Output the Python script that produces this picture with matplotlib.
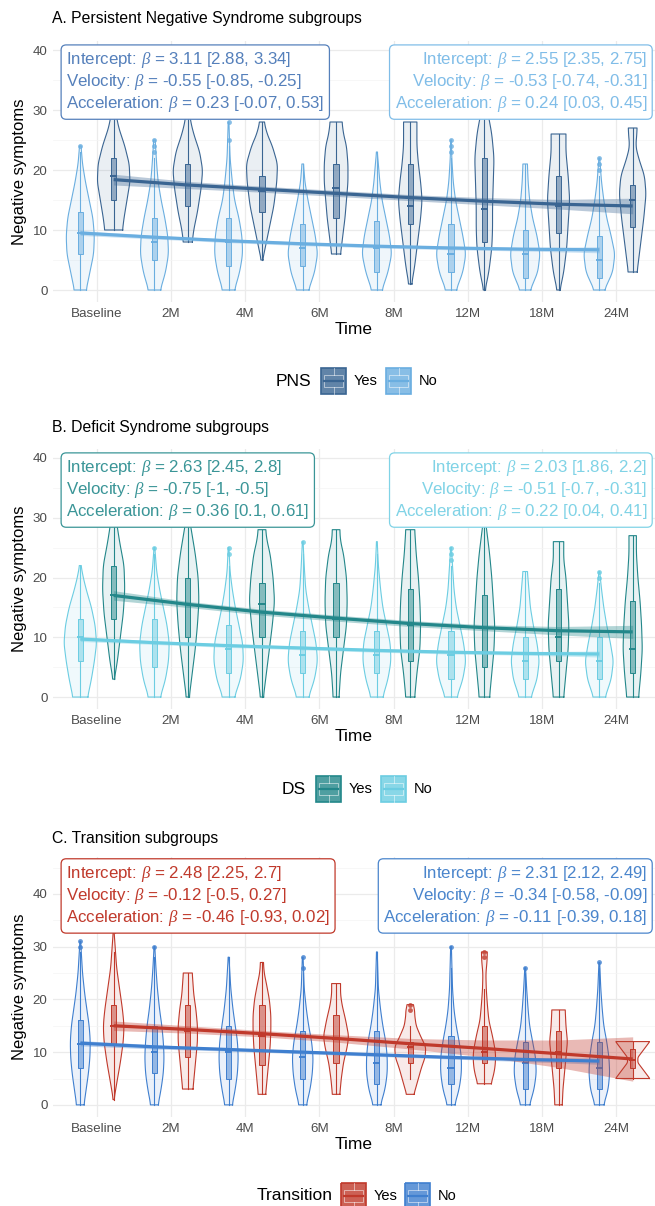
import numpy as np
import matplotlib
matplotlib.use('Agg')
import matplotlib.pyplot as plt
from matplotlib.patches import Rectangle

plt.rcParams['font.family'] = ['Liberation Sans', 'DejaVu Sans']
plt.rcParams['mathtext.fontset'] = 'custom'
plt.rcParams['mathtext.it'] = 'Liberation Serif:italic'
plt.rcParams['mathtext.rm'] = 'Liberation Sans'

W, H = 655, 1206
TIMES = ['Baseline', '2M', '4M', '6M', '8M', '12M', '18M', '24M']

# ---------------- panel A : PNS ----------------
A_YES_VIOLIN = [
    [[10, .12], [12, .14], [15, .18], [18, .22], [21, .21], [24, .15], [27, .07], [30, .02]],
    [[8, .06], [10, .08], [13, .13], [17, .18], [20, .2], [23, .16], [26, .08], [28, .04], [30, .02]],
    [[5, .01], [8, .06], [11, .11], [14, .16], [18, .2], [21, .21], [24, .14], [26, .07], [28, .03]],
    [[6, .06], [9, .09], [12, .12], [15, .14], [18, .16], [21, .16], [24, .14], [26, .1], [28, .08]],
    [[1, .02], [4, .06], [8, .1], [12, .14], [15, .16], [18, .14], [21, .11], [24, .09], [28, .09]],
    [[0, .01], [3, .06], [7, .1], [10, .11], [14, .11], [18, .12], [22, .13], [26, .1], [30, .04]],
    [[0, .02], [3, .07], [7, .11], [11, .13], [15, .15], [19, .13], [23, .1], [26, .1]],
    [[3, .06], [5, .08], [8, .11], [12, .15], [16, .18], [19, .16], [22, .08], [24, .04], [25, .05], [27, .06]],
]
A_YES_BOX = [[10, 15, 19, 22, 30], [8, 14, 17.5, 21, 30], [5, 13, 16.5, 19, 28], [6, 12, 17, 21, 28],
             [1, 11, 14, 21, 28], [0, 8, 13.5, 22, 30], [0, 9.5, 14, 19, 26], [3, 10.5, 15, 17.5, 27]]
A_YES_OUT = [[], [], [], [], [], [], [], []]
A_NO_VIOLIN = [
    [[0, .08], [3, .13], [6, .18], [9, .19], [12, .17], [15, .12], [18, .07], [21, .03], [24, .01]],
    [[0, .08], [3, .15], [6, .19], [9, .18], [12, .14], [15, .09], [18, .05], [21, .03], [25, .01]],
    [[0, .08], [3, .15], [6, .19], [9, .18], [12, .14], [15, .08], [18, .05], [22, .02], [28, .005]],
    [[0, .08], [3, .16], [6, .2], [9, .17], [12, .12], [15, .07], [18, .03], [21, .01]],
    [[0, .07], [3, .15], [6, .2], [9, .17], [12, .12], [15, .07], [18, .04], [21, .02], [23, .005]],
    [[0, .07], [3, .16], [6, .2], [9, .16], [12, .11], [15, .06], [18, .03], [22, .01], [25, .005]],
    [[0, .07], [3, .17], [6, .2], [9, .16], [12, .1], [15, .06], [18, .04], [21, .03]],
    [[0, .07], [3, .18], [6, .21], [9, .16], [12, .1], [15, .06], [18, .03], [22, .005]],
]
A_NO_BOX = [[0, 6, 9.5, 13, 23], [0, 5, 8, 12, 22], [0, 4, 8, 12, 24], [0, 4, 7, 11, 21],
            [0, 3, 7, 11.5, 23], [0, 3, 6, 11, 22], [0, 2, 6, 10, 21], [0, 2, 5, 9, 19]]
A_NO_OUT = [[24], [23, 24, 25], [25, 28], [], [], [23, 24, 25], [], [20, 21, 22]]
A_YES_FIT = [18.4, 17.5, 16.8, 16.1, 15.4, 14.8, 14.3, 14.0]
A_YES_CI = [0.9, 0.6, 0.5, 0.5, 0.5, 0.6, 0.8, 1.3]
A_NO_FIT = [9.5, 8.8, 8.2, 7.7, 7.3, 7.0, 6.8, 6.7]
A_NO_CI = [0.4, 0.3, 0.3, 0.3, 0.3, 0.3, 0.3, 0.5]
A_YES_STATS = [['3.11', '2.88', '3.34'], ['-0.55', '-0.85', '-0.25'], ['0.23', '-0.07', '0.53']]
A_NO_STATS = [['2.55', '2.35', '2.75'], ['-0.53', '-0.74', '-0.31'], ['0.24', '0.03', '0.45']]

# ---------------- panel B : DS ----------------
B_YES_VIOLIN = [
    [[3, .01], [6, .05], [10, .09], [14, .13], [18, .15], [22, .14], [26, .08], [30, .03]],
    [[0, .02], [4, .06], [8, .1], [12, .13], [16, .15], [20, .14], [24, .1], [27, .06], [30, .02]],
    [[0, .02], [4, .06], [8, .1], [12, .14], [16, .17], [20, .15], [24, .11], [26, .07], [28, .05]],
    [[0, .04], [4, .06], [8, .1], [12, .14], [16, .15], [20, .14], [24, .1], [26, .06], [28, .05]],
    [[0, .06], [4, .09], [8, .13], [12, .14], [16, .13], [20, .11], [24, .08], [28, .06]],
    [[0, .07], [4, .1], [8, .13], [12, .14], [16, .12], [20, .1], [24, .07], [27, .04], [30, .01]],
    [[0, .07], [4, .1], [8, .13], [12, .14], [16, .12], [20, .1], [23, .07], [26, .07]],
    [[0, .08], [4, .11], [8, .13], [12, .12], [16, .1], [20, .07], [24, .05], [27, .05]],
]
B_YES_BOX = [[3, 13, 17, 22, 30], [0, 10, 15.5, 20, 30], [0, 10, 15.5, 19, 28], [0, 10, 13, 19, 28],
             [0, 6, 12, 18, 28], [0, 5, 11.5, 17, 30], [0, 6, 10, 18, 26], [0, 4, 8, 16, 27]]
B_YES_OUT = [[], [], [], [], [], [], [], []]
B_NO_VIOLIN = [
    [[0, .1], [3, .15], [6, .19], [9, .22], [12, .2], [15, .15], [18, .08], [20, .04], [22, .01]],
    [[0, .08], [3, .15], [6, .19], [9, .2], [12, .17], [15, .12], [18, .07], [21, .03], [25, .005]],
    [[0, .08], [3, .16], [6, .2], [9, .19], [12, .14], [15, .09], [18, .05], [21, .02], [25, .005]],
    [[0, .08], [3, .16], [6, .2], [9, .18], [12, .13], [15, .08], [18, .04], [22, .02], [26, .005]],
    [[0, .08], [3, .15], [6, .19], [9, .18], [12, .13], [15, .08], [18, .05], [22, .02], [26, .005]],
    [[0, .08], [3, .16], [6, .2], [9, .17], [12, .12], [15, .07], [18, .04], [22, .02], [25, .005]],
    [[0, .08], [3, .16], [6, .19], [9, .16], [12, .11], [15, .07], [18, .05], [21, .03]],
    [[0, .08], [3, .16], [6, .19], [9, .15], [12, .1], [15, .06], [18, .03], [21, .005]],
]
B_NO_BOX = [[0, 6, 10, 13, 22], [0, 5, 9, 13, 24], [0, 4, 8, 12, 22], [0, 4, 7, 11, 24],
            [0, 4, 7, 11, 24], [0, 3, 7, 11, 22], [0, 3, 6, 10, 21], [0, 3, 6, 10, 19]]
B_NO_OUT = [[], [25], [24, 25], [26], [], [23, 24, 25], [], [20, 21]]
B_YES_FIT = [17.0, 15.5, 14.2, 13.2, 12.3, 11.6, 11.1, 10.9]
B_YES_CI = [0.8, 0.5, 0.5, 0.5, 0.5, 0.5, 0.7, 1.1]
B_NO_FIT = [9.7, 9.1, 8.6, 8.2, 7.8, 7.5, 7.3, 7.2]
B_NO_CI = [0.4, 0.3, 0.3, 0.3, 0.3, 0.3, 0.3, 0.5]
B_YES_STATS = [['2.63', '2.45', '2.8'], ['-0.75', '-1', '-0.5'], ['0.36', '0.1', '0.61']]
B_NO_STATS = [['2.03', '1.86', '2.2'], ['-0.51', '-0.7', '-0.31'], ['0.22', '0.04', '0.41']]

# ---------------- panel C : Transition ----------------
C_YES_VIOLIN = [
    [[1, .005], [4, .04], [8, .09], [12, .13], [15, .14], [18, .12], [22, .08], [26, .04], [30, .02], [33, .005]],
    [[3, .07], [6, .09], [9, .11], [12, .13], [15, .13], [18, .11], [21, .08], [25, .06]],
    [[2, .05], [5, .07], [8, .09], [11, .11], [14, .12], [17, .12], [20, .1], [23, .06], [25, .03], [27, .02]],
    [[2, .05], [5, .07], [8, .1], [11, .15], [13, .17], [16, .13], [19, .08], [21, .06], [23, .06]],
    [[2, .05], [4, .09], [7, .15], [9, .2], [11, .21], [13, .14], [15, .08], [17, .06], [18, .06], [19, .04]],
    [[4, .09], [6, .13], [8, .15], [10, .15], [13, .11], [16, .06], [19, .04], [22, .025], [25, .02], [27, .035], [29, .04]],
    [[0, .05], [3, .06], [6, .08], [9, .1], [12, .12], [15, .1], [18, .09]],
    [[5, .23], [6.5, .15], [8, .07], [9, .07], [10.5, .15], [12, .23]],
]
C_YES_BOX = [[1, 11.5, 15, 19, 29], [3, 9, 14, 19, 25], [2, 7.5, 13, 19, 27], [2, 8, 12.5, 17, 23],
             [5, 8, 11, 12, 15], [4, 8, 10, 15, 22], [0, 7, 10, 14, 18], [5, 7, 8.5, 10.5, 12]]
C_YES_OUT = [[33], [], [], [], [18, 19], [28, 29], [], []]
C_NO_VIOLIN = [
    [[0, .05], [3, .08], [6, .11], [9, .13], [12, .135], [15, .12], [18, .09], [21, .06], [25, .03], [31, .005]],
    [[0, .05], [3, .09], [6, .12], [9, .13], [12, .12], [15, .1], [18, .07], [22, .04], [26, .02], [30, .005]],
    [[0, .05], [3, .09], [6, .12], [9, .13], [12, .12], [15, .09], [18, .06], [22, .03], [28, .005]],
    [[0, .05], [3, .1], [6, .13], [9, .14], [12, .12], [15, .08], [18, .05], [22, .02], [28, .005]],
    [[0, .05], [3, .11], [6, .14], [9, .14], [12, .12], [15, .08], [18, .05], [22, .02], [29, .005]],
    [[0, .05], [3, .11], [6, .14], [9, .14], [12, .11], [15, .07], [18, .04], [22, .02], [30, .005]],
    [[0, .06], [3, .12], [6, .15], [9, .14], [12, .1], [15, .06], [18, .04], [22, .02], [26, .005]],
    [[0, .06], [3, .12], [6, .14], [9, .13], [12, .1], [15, .06], [18, .04], [22, .02], [27, .005]],
]
C_NO_BOX = [[0, 7, 11.5, 16, 29], [0, 6, 10, 15, 28], [0, 5, 10, 15, 28], [0, 5, 9, 14, 25],
            [0, 4, 8, 14, 29], [0, 4, 7, 13, 26], [0, 3, 8, 12, 25], [0, 3, 7, 12, 26]]
C_NO_OUT = [[30, 31], [30], [], [26, 28], [], [30], [26], [27]]
C_YES_FIT = [15.0, 14.3, 13.5, 12.6, 11.6, 10.7, 9.7, 8.7]
C_YES_CI = [0.9, 0.7, 0.6, 0.7, 1.0, 1.6, 2.6, 4.2]
C_NO_FIT = [11.7, 11.0, 10.5, 10.0, 9.5, 9.0, 8.6, 8.3]
C_NO_CI = [0.5, 0.4, 0.3, 0.3, 0.3, 0.3, 0.4, 0.6]
C_YES_STATS = [['2.48', '2.25', '2.7'], ['-0.12', '-0.5', '0.27'], ['-0.46', '-0.93', '0.02']]
C_NO_STATS = [['2.31', '2.12', '2.49'], ['-0.34', '-0.58', '-0.09'], ['-0.11', '-0.39', '0.18']]

STAT_NAMES = ['Intercept', 'Velocity', 'Acceleration']
DODGE = 0.225
BOXW = 0.07


def violin(ax, pos, prof, col):
    ys = np.array([p[0] for p in prof], float)
    ws = np.array([p[1] for p in prof], float)
    yy = np.linspace(ys[0], ys[-1], 60)
    ww = np.interp(yy, ys, ws)
    ww = np.convolve(np.pad(ww, 2, mode='edge'), np.ones(5) / 5, mode='valid')
    xs = np.concatenate([pos + ww, (pos - ww)[::-1]])
    yv = np.concatenate([yy, yy[::-1]])
    ax.fill(xs, yv, fc=col, alpha=0.1, ec='none', zorder=2)
    ax.plot(np.append(xs, xs[0]), np.append(yv, yv[0]), color=col, lw=0.8, zorder=3)


def boxplot(ax, pos, b, outs, col):
    lo, q1, med, q3, hi = b
    ax.add_patch(Rectangle((pos - BOXW / 2, q1), BOXW, q3 - q1, fc=col, alpha=0.5, ec='none', zorder=4))
    ax.add_patch(Rectangle((pos - BOXW / 2, q1), BOXW, q3 - q1, fc='none', ec=col, lw=0.7, zorder=4))
    ax.plot([pos - BOXW / 2, pos + BOXW / 2], [med, med], color=col, lw=1.4, zorder=4)
    ax.plot([pos, pos], [lo, q1], color=col, lw=0.8, zorder=4)
    ax.plot([pos, pos], [q3, hi], color=col, lw=0.8, zorder=4)
    if outs:
        ax.plot([pos] * len(outs), outs, 'o', color=col, ms=3.5, alpha=0.8, mec='none', zorder=4)


def label(stats):
    lines = ['%s: $\\beta$ = %s [%s, %s]' % (n, s[0], s[1], s[2]) for n, s in zip(STAT_NAMES, stats)]
    return '\n'.join(lines)


def panel(top, bottom, ylim, title, title_y, yes_v, yes_b, yes_o, no_v, no_b, no_o,
          yes_fit, yes_ci, no_fit, no_ci, yes_stats, no_stats, cols, txt_top):
    yes_col, no_col, yes_txt, no_txt = cols
    ax = fig.add_axes([53 / W, 1 - bottom / H, 602 / W, (bottom - top) / H])
    x = np.arange(1, 9)
    for i in range(8):
        violin(ax, x[i] - DODGE, no_v[i], no_col)
        violin(ax, x[i] + DODGE, yes_v[i], yes_col)
        boxplot(ax, x[i] - DODGE, no_b[i], no_o[i], no_col)
        boxplot(ax, x[i] + DODGE, yes_b[i], yes_o[i], yes_col)
    for fit, ci, col, off in [(no_fit, no_ci, no_col, -DODGE), (yes_fit, yes_ci, yes_col, DODGE)]:
        fit = np.array(fit)
        ci = np.array(ci)
        ax.fill_between(x + off, fit - ci, fit + ci, color=col, alpha=0.35, lw=0, zorder=5)
        ax.plot(x + off, fit, color=col, lw=2.3, zorder=6, solid_capstyle='butt')

    ax.text(0.585, txt_top, label(yes_stats), ha='left', va='top', fontsize=12.2,
            color=yes_txt, linespacing=1.15, zorder=10,
            bbox=dict(boxstyle='round,pad=0.3,rounding_size=0.3', fc='white', ec=yes_txt, lw=0.9))
    ax.text(8.42, txt_top, label(no_stats), ha='right', va='top', multialignment='right',
            fontsize=12.2, color=no_txt, linespacing=1.15, zorder=10,
            bbox=dict(boxstyle='round,pad=0.3,rounding_size=0.3', fc='white', ec=no_txt, lw=0.9))

    ax.set_xticks(x)
    ax.set_xticklabels(TIMES)
    ax.set_yticks([0, 10, 20, 30, 40])
    ax.set_yticks([5, 15, 25, 35, 45], minor=True)
    ax.set_xlim(0.407, 8.526)
    ax.set_ylim(*ylim)
    ax.grid(which='major', color='#ebebeb', lw=0.9, zorder=0)
    ax.grid(which='minor', axis='y', color='#f4f4f4', lw=0.5, zorder=0)
    ax.set_axisbelow(True)
    for s in ax.spines.values():
        s.set_visible(False)
    ax.tick_params(which='both', length=0, labelsize=9.6, labelcolor='#4d4d4d', pad=4)
    ax.set_xlabel('Time', fontsize=12.5, labelpad=2)
    ax.set_ylabel('Negative symptoms', fontsize=12, labelpad=4)
    fig.text(52 / W, 1 - title_y / H, title, fontsize=11.3, va='center', ha='left')
    return ax


def legend(yc, title, tx, k1, k2, yes_col, no_col):
    lax = fig.add_axes([0, 1 - (yc + 16) / H, 1, 32 / H])
    lax.set_xlim(0, W)
    lax.set_ylim(yc + 16, yc - 16)
    lax.axis('off')
    lax.text(tx, yc, title, ha='right', va='center', fontsize=12.5)
    for x0, col, lab in [(k1, yes_col, 'Yes'), (k2, no_col, 'No')]:
        lax.add_patch(Rectangle((x0, yc - 13), 25, 26, fc=col, alpha=0.8, ec='none'))
        lax.add_patch(Rectangle((x0, yc - 13), 25, 26, fc='none', ec=col, lw=1.2))
        lax.add_patch(Rectangle((x0 + 3, yc - 6), 19, 12, fc='none', ec='white', lw=0.6, alpha=0.6))
        lax.plot([x0 + 3, x0 + 22], [yc, yc], color=col, lw=1.6)
        lax.plot([x0 + 12.5, x0 + 12.5], [yc - 13, yc - 6], color='white', lw=0.6, alpha=0.6)
        lax.plot([x0 + 12.5, x0 + 12.5], [yc + 6, yc + 13], color='white', lw=0.6, alpha=0.6)
        lax.text(x0 + 33, yc, lab, ha='left', va='center', fontsize=10.5)


fig = plt.figure(figsize=(W / 100, H / 100), dpi=100)

panel(41, 302, (-2, 41.5), 'A. Persistent Negative Syndrome subgroups', 18,
      A_YES_VIOLIN, A_YES_BOX, A_YES_OUT, A_NO_VIOLIN, A_NO_BOX, A_NO_OUT,
      A_YES_FIT, A_YES_CI, A_NO_FIT, A_NO_CI, A_YES_STATS, A_NO_STATS,
      ('#3a6592', '#6aaee0', '#5580bb', '#80bde8'), 40.0)
legend(381, 'PNS', 311, 321, 386, '#3a6592', '#6aaee0')

panel(449, 709, (-2, 41.5), 'B. Deficit Syndrome subgroups', 428,
      B_YES_VIOLIN, B_YES_BOX, B_YES_OUT, B_NO_VIOLIN, B_NO_BOX, B_NO_OUT,
      B_YES_FIT, B_YES_CI, B_NO_FIT, B_NO_CI, B_YES_STATS, B_NO_STATS,
      ('#23878a', '#6ccde2', '#3a9597', '#80d3e6'), 40.0)
legend(789, 'DS', 306, 316, 381, '#23878a', '#6ccde2')

panel(857, 1117, (-2.3, 47), 'C. Transition subgroups', 838,
      C_YES_VIOLIN, C_YES_BOX, C_YES_OUT, C_NO_VIOLIN, C_NO_BOX, C_NO_OUT,
      C_YES_FIT, C_YES_CI, C_NO_FIT, C_NO_CI, C_YES_STATS, C_NO_STATS,
      ('#c0392b', '#3f7fcf', '#c0392b', '#4a85cc'), 45.7)
legend(1196, 'Transition', 333, 341, 405, '#c0392b', '#3f7fcf')

fig.savefig('out.png', dpi=100)
